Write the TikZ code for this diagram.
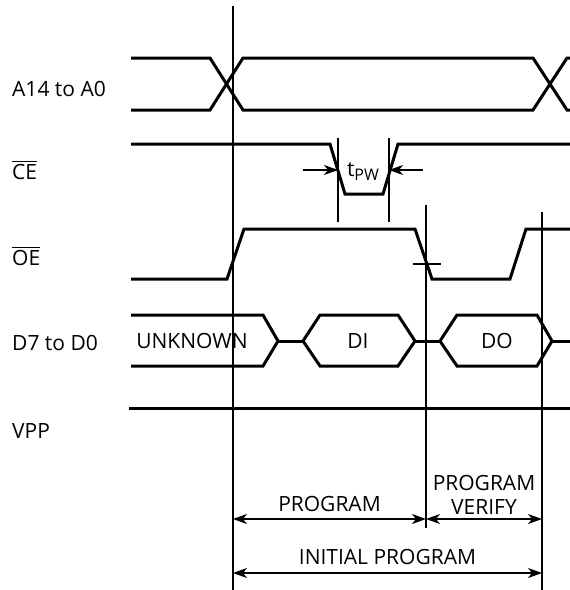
\documentclass[tikz,border=0pt]{standalone}
\usepackage{amsmath}
\usepackage{fontspec}
\setmainfont{Open Sans}
\usetikzlibrary{arrows.meta,positioning,calc}

\begin{document}
\begin{tikzpicture}[x=1pt, y=-1pt,
    signal/.style={line width=3pt, line join=miter},
    guide/.style={line width=1.4pt},
    span/.style={<->, line width=1.3pt, >={Stealth[length=14pt,width=10pt,inset=4pt]}},
    label/.style={font=\fontsize{21}{24}\selectfont, inner sep=0pt}
]
\useasboundingbox (0,0) rectangle (570,590);

% Signal names
\node[label, anchor=west] (addr) at (12,89) {A14 to A0};
\node[label, anchor=west] (ce) at (12,170) {$\overline{\text{CE}}$};
\node[label, anchor=west] (oe) at (12,256) {$\overline{\text{OE}}$};
\node[label, anchor=west] (data) at (12,343) {D7 to D0};
\node[label, anchor=west] (vpp) at (12,431) {VPP};

% Address bus
\draw[signal] (131,58) -- (210,58) -- (243,110) -- (533,110) -- (567,58) -- (575,58);
\draw[signal] (131,110) -- (210,110) -- (243,58) -- (533,58) -- (567,110) -- (575,110);

% Chip enable pulse
\draw[signal] (131,144) -- (330,144) -- (345,194) -- (383,194) -- (398,144) -- (575,144);

% Output enable
\draw[signal] (131,279) -- (227,279) -- (244,229) -- (415,229) -- (432,279) -- (510,279) -- (526,229) -- (575,229);

% Data bus
\draw[signal] (131,315) -- (263,315) -- (278,341) -- (263,366) -- (131,366);
\draw[signal] (278,341) -- (303,341);
\draw[signal] (303,341) -- (320,315) -- (398,315) -- (415,341) -- (398,366) -- (320,366) -- cycle;
\draw[signal] (415,341) -- (440,341);
\draw[signal] (440,341) -- (457,315) -- (537,315) -- (552,341) -- (537,366) -- (457,366) -- cycle;
\draw[signal] (552,341) -- (575,341);
\node[label] (unknown) at (192,341) {UNKNOWN};
\node[label] (di) at (358,341) {DI};
\node[label] (do) at (497,341) {DO};

% Program voltage
\draw[signal] (129,408) -- (575,408);

% Timing marks
\coordinate (t1 top) at (233,6);
\coordinate (t1 bot) at (233,590);
\coordinate (t2 top) at (426,205);
\coordinate (t2 bot) at (426,528);
\coordinate (t3 top) at (542,212);
\coordinate (t3 bot) at (542,590);
\draw[guide] (t1 top) -- (t1 bot);
\draw[guide] (t2 top) -- (t2 bot);
\draw[guide] (t3 top) -- (t3 bot);
\draw[guide] (413,264) -- (441,264);

% Pulse width
\coordinate (pw left) at (338,170);
\coordinate (pw right) at (389,170);
\draw[guide] (338,138) -- (338,222);
\draw[guide] (389,138) -- (389,222);
\draw[span, <-] (pw left) -- ++(-35,0);
\draw[span, <-] (pw right) -- ++(34,0);
\node[label] (tpw) at (363,172) {t\raisebox{-0.35ex}{\fontsize{16}{16}\selectfont PW}};

% Program phases
\draw[span] (233,519) -- node[label, above=7pt] (prog) {PROGRAM} (426,519);
\draw[span] (426,519) -- node[label, above=4pt, align=center] (verify) {PROGRAM\\VERIFY} (542,519);
\draw[span] (233,573) -- node[label, above=8pt] (init) {INITIAL PROGRAM} (542,573);

\end{tikzpicture}
\end{document}
